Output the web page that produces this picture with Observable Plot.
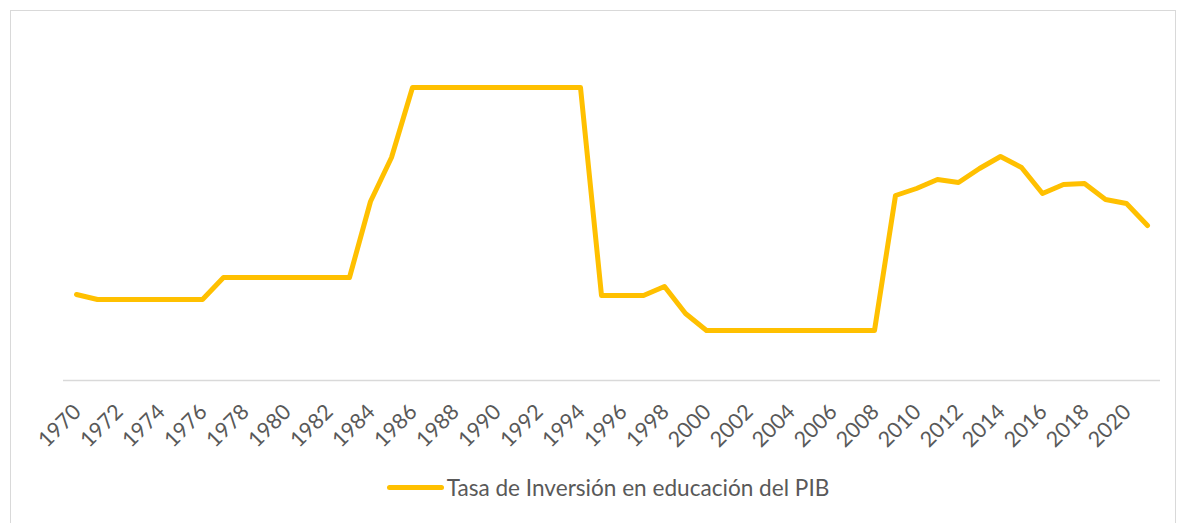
<!DOCTYPE html>
<html>
<head>
<meta charset="utf-8">
<script src="https://cdn.jsdelivr.net/npm/d3@7"></script>
<script src="https://cdn.jsdelivr.net/npm/@observablehq/plot@0.6"></script>
<style>
  html, body { margin: 0; padding: 0; background: #fff; width: 1188px; height: 523px; overflow: hidden; }
  #frame { position: absolute; left: 10px; top: 10px; width: 1166px; height: 530px; border: 1px solid #d9d9d9; box-sizing: border-box; }
  #chart { position: absolute; left: 0; top: 0; }
  #legend { position: absolute; left: 0; top: 474px; width: 1188px; padding-left: 28px; box-sizing: border-box;
            display: flex; justify-content: center; align-items: center;
            font-family: Lato, "Open Sans", sans-serif; font-size: 22.6px; color: #595959; }
  #legend .sw { display: inline-block; width: 57px; height: 5px; border-radius: 3px; background: #FFC000; margin-right: 3px; }
</style>
</head>
<body>
<div id="frame"></div>
<div id="chart"></div>
<div id="legend"><span class="sw"></span><span>Tasa de Inversión en educación del PIB</span></div>
<script>
const years = d3.range(1970, 2022);
const values = [
  1.72, 1.62, 1.62, 1.62, 1.62, 1.62, 1.62, 2.06, 2.06, 2.06,
  2.06, 2.06, 2.06, 2.06, 3.58, 4.46, 5.86, 5.86, 5.86, 5.86,
  5.86, 5.86, 5.86, 5.86, 5.86, 1.70, 1.70, 1.70, 1.88, 1.34,
  1.00, 1.00, 1.00, 1.00, 1.00, 1.00, 1.00, 1.00, 1.00, 3.70,
  3.84, 4.02, 3.96, 4.24, 4.48, 4.26, 3.74, 3.92, 3.94, 3.62,
  3.54, 3.10
];
const tickYears = years.filter(y => (y - 1970) % 2 === 0);
const seriesName = "Tasa de Inversión en educación del PIB";

const data = years.map((y, i) => ({year: y, value: values[i], series: seriesName}));

const chart = Plot.plot({
  width: 1188,
  height: 460,
  marginLeft: 63,
  marginRight: 28,
  marginTop: 30,
  marginBottom: 80,
  style: {fontFamily: "Lato, 'Open Sans', sans-serif", background: "transparent"},
  x: {type: "point", domain: years, padding: 0.5, align: 0.5, axis: null},
  y: {domain: [0, 7], axis: null},
  marks: [
    Plot.ruleY([0], {stroke: "#d9d9d9", strokeWidth: 1.5}),
    Plot.text(tickYears, {x: d => d, y: 0, text: d => String(d), rotate: -45, textAnchor: "end",
                          lineAnchor: "top", dx: -5, dy: 22, fontSize: 21.5, fill: "#595959"}),
    Plot.line(data, {x: "year", y: "value", stroke: "#FFC000", strokeWidth: 5,
                     strokeLinejoin: "round", strokeLinecap: "round"})
  ]
});
document.getElementById("chart").appendChild(chart);
</script>
</body>
</html>
